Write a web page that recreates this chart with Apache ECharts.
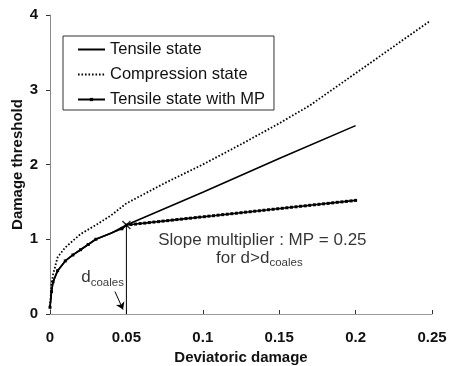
<!DOCTYPE html>
<html>
<head>
<meta charset="utf-8">
<script src="https://cdn.jsdelivr.net/npm/echarts@6/dist/echarts.min.js"></script>
<style>
  html, body { margin: 0; padding: 0; background: #fff; }
  #chart { width: 450px; height: 366px; }
</style>
</head>
<body>
<div id="chart"></div>
<script>
// values
var tensileX = [0, 0.001, 0.002, 0.005, 0.01, 0.015, 0.02, 0.025, 0.03, 0.04, 0.05, 0.1, 0.15, 0.2];
var tensileY = [0.09, 0.30, 0.43, 0.58, 0.71, 0.79, 0.86, 0.93, 1.00, 1.08, 1.19, 1.63, 2.08, 2.52];

var compX = [0, 0.001, 0.002, 0.005, 0.01, 0.02, 0.03, 0.04, 0.05, 0.075, 0.1, 0.125, 0.15, 0.17, 0.2, 0.225, 0.248];
var compY = [0.10, 0.40, 0.53, 0.76, 0.89, 1.07, 1.19, 1.32, 1.48, 1.75, 2.00, 2.27, 2.55, 2.79, 3.22, 3.58, 3.91];

var mpX = [0, 0.001, 0.002, 0.005, 0.01, 0.015, 0.02, 0.025, 0.03, 0.047, 0.05,
  0.053, 0.056, 0.059, 0.062, 0.065, 0.068, 0.071, 0.074, 0.077, 0.08,
  0.083, 0.086, 0.089, 0.092, 0.095, 0.098, 0.101, 0.104, 0.107, 0.11,
  0.113, 0.116, 0.119, 0.122, 0.125, 0.128, 0.131, 0.134, 0.137, 0.14,
  0.143, 0.146, 0.149, 0.152, 0.155, 0.158, 0.161, 0.164, 0.167, 0.17,
  0.173, 0.176, 0.179, 0.182, 0.185, 0.188, 0.191, 0.194, 0.197, 0.2];
var mpY = [0.09, 0.30, 0.43, 0.58, 0.71, 0.79, 0.86, 0.93, 1.00, 1.14, 1.19,
  1.197, 1.203, 1.210, 1.216, 1.223, 1.230, 1.236, 1.243, 1.249, 1.256,
  1.263, 1.269, 1.276, 1.282, 1.289, 1.296, 1.302, 1.309, 1.315, 1.322,
  1.329, 1.335, 1.342, 1.348, 1.355, 1.362, 1.368, 1.375, 1.381, 1.388,
  1.395, 1.401, 1.408, 1.414, 1.421, 1.428, 1.434, 1.441, 1.447, 1.454,
  1.461, 1.467, 1.474, 1.480, 1.487, 1.494, 1.500, 1.507, 1.513, 1.520];

var kneeX = 0.05;
var kneeY = 1.19;

var xTicks = [0, 0.05, 0.1, 0.15, 0.2, 0.25];
var yTicks = [0, 1, 2, 3, 4];

function pairs(xs, ys) {
  return xs.map(function (x, i) { return [x, ys[i]]; });
}

var crossPath = 'path://M0,0L10,10M10,0L0,10';

var chart = echarts.init(document.getElementById('chart'));
chart.setOption({
  animation: false,
  backgroundColor: '#fff',
  textStyle: { fontFamily: 'Liberation Sans, Arial, sans-serif', color: '#111' },
  grid: { left: 50, right: 18, top: 15, bottom: 52, outerBoundsMode: 'none', containLabel: false },
  legend: {
    data: [
      { name: 'Tensile state', itemStyle: { opacity: 0 } },
      { name: 'Compression state', itemStyle: { opacity: 0 } },
      { name: 'Tensile state with MP' }
    ],
    orient: 'vertical',
    left: 63,
    top: 36,
    padding: [5, 9, 2, 14],
    itemWidth: 27,
    itemHeight: 4,
    itemGap: 8,
    borderColor: '#333',
    borderWidth: 1,
    backgroundColor: '#fff',
    textStyle: { fontSize: 16.5, lineHeight: 16, color: '#111' }
  },
  xAxis: {
    type: 'value',
    min: xTicks[0],
    max: xTicks[xTicks.length - 1],
    interval: 0.05,
    name: 'Deviatoric damage',
    nameLocation: 'middle',
    nameGap: 35,
    nameTextStyle: { fontSize: 15, fontWeight: 'bold', color: '#111' },
    axisLine: { lineStyle: { color: '#999', width: 1 } },
    axisTick: { inside: true, length: 4, lineStyle: { color: '#333' } },
    axisLabel: { fontSize: 15, fontWeight: 'bold', color: '#111', margin: 16 },
    splitLine: { show: false }
  },
  yAxis: {
    type: 'value',
    min: yTicks[0],
    max: yTicks[yTicks.length - 1],
    interval: 1,
    name: 'Damage threshold',
    nameLocation: 'middle',
    nameGap: 25,
    nameMoveOverlap: false,
    nameTextStyle: { fontSize: 15, fontWeight: 'bold', color: '#111' },
    axisLine: { show: true, lineStyle: { color: '#888', width: 1 } },
    axisTick: { show: true, length: 4, lineStyle: { color: '#333' } },
    axisLabel: { fontSize: 15, fontWeight: 'bold', color: '#111', margin: 12 },
    splitLine: { show: false }
  },
  series: [
    {
      name: 'Tensile state',
      type: 'line',
      data: pairs(tensileX, tensileY),
      symbol: 'none',
      lineStyle: { color: '#000', width: 1.6 },
      itemStyle: { color: '#000' }
    },
    {
      name: 'Compression state',
      type: 'line',
      data: pairs(compX, compY),
      symbol: 'none',
      lineStyle: { color: '#000', width: 1.8, type: [1.6, 1.9] },
      itemStyle: { color: '#000' }
    },
    {
      name: 'Tensile state with MP',
      type: 'line',
      data: pairs(mpX, mpY),
      symbol: 'rect',
      symbolSize: 3,
      showAllSymbol: true,
      lineStyle: { color: '#000', width: 1.6 },
      itemStyle: { color: '#000' }
    },
    {
      // d_coales vertical line and arrow
      name: 'dcoales',
      type: 'line',
      data: [[kneeX, 0], [kneeX, kneeY]],
      symbol: 'none',
      lineStyle: { color: '#000', width: 1 },
      markLine: {
        silent: true,
        symbol: ['none', 'arrow'],
        symbolSize: [7, 7],
        label: { show: false },
        lineStyle: { color: '#000', width: 1, type: 'solid' },
        data: [[{ coord: [0.0425, 0.30] }, { coord: [0.0478, 0.06] }]]
      }
    },
    {
      name: 'knee',
      type: 'scatter',
      data: [[kneeX, kneeY]],
      symbol: crossPath,
      symbolSize: 8,
      itemStyle: { color: 'none', borderColor: '#000', borderWidth: 1.5 },
      z: 5
    },
    {
      name: 'notes',
      type: 'scatter',
      symbolSize: 0,
      silent: true,
      data: [
        { value: [0.0344, 0.487], label: { formatter: '{d|d}{s|coales}' } },
        { value: [0.139, 0.987], label: { formatter: '{m|Slope multiplier : MP = 0.25}' } },
        { value: [0.137, 0.75], label: { formatter: '{m|for d>d}{s|coales}' } }
      ],
      label: {
        show: true,
        position: 'inside',
        color: '#000',
        rich: {
          d: { fontSize: 17, lineHeight: 22, color: '#000' },
          m: { fontSize: 17, lineHeight: 22, color: '#000' },
          s: { fontSize: 11.5, lineHeight: 12, verticalAlign: 'bottom', color: '#000' }
        }
      }
    }
  ]
});
</script>
</body>
</html>
